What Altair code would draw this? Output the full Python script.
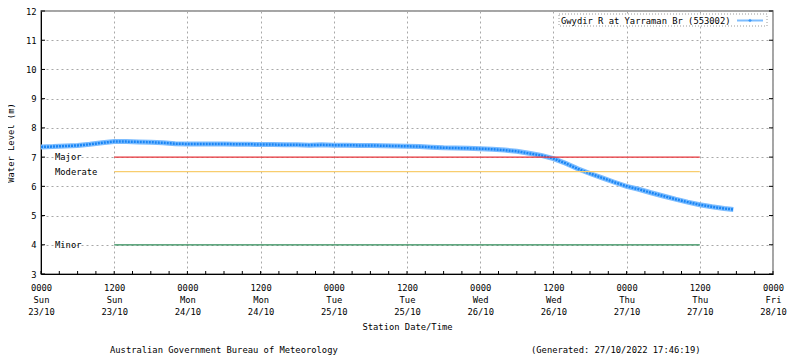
import altair as alt
import pandas as pd

# hours since 0000 Sun 23/10/2022 and water level (m)
hours = [0, 2, 4, 6, 8, 10, 12, 14, 16, 18, 20, 22, 24, 26, 28, 30, 32, 34, 36, 38,
         40, 42, 44, 46, 48, 50, 52, 54, 56, 58, 60, 62, 64, 66, 68, 70, 72, 74, 76, 78,
         80, 82, 84, 86, 88, 90, 92, 94, 96, 98, 100, 102, 104, 106, 108, 110, 112, 113.5]
levels = [7.35, 7.36, 7.38, 7.40, 7.44, 7.49, 7.53, 7.53, 7.52, 7.51, 7.49, 7.46, 7.45, 7.45,
          7.45, 7.45, 7.44, 7.44, 7.43, 7.43, 7.42, 7.42, 7.41, 7.42, 7.41, 7.41, 7.40, 7.40,
          7.39, 7.38, 7.37, 7.36, 7.34, 7.32, 7.31, 7.30, 7.29, 7.27, 7.24, 7.20, 7.13, 7.06,
          6.95, 6.79, 6.60, 6.44, 6.29, 6.14, 6.00, 5.90, 5.78, 5.67, 5.56, 5.46, 5.37, 5.30,
          5.24, 5.21]

flood_names = ["Major", "Moderate", "Minor"]
flood_levels = [7.0, 6.5, 4.0]
flood_colors = ["#e8343a", "#f8cd6e", "#2e8b57"]
flood_start = 12
flood_end = 108

x_tick_hours = [0, 12, 24, 36, 48, 60, 72, 84, 96, 108, 120]
x_tick_times = ["0000", "1200"] * 5 + ["0000"]
x_tick_days = ["Sun", "Sun", "Mon", "Mon", "Tue", "Tue", "Wed", "Wed", "Thu", "Thu", "Fri"]
x_tick_dates = ["23/10", "23/10", "24/10", "24/10", "25/10", "25/10", "26/10", "26/10",
                "27/10", "27/10", "28/10"]
minor_tick_hours = list(range(0, 121, 3))
y_ticks = [3, 4, 5, 6, 7, 8, 9, 10, 11, 12]

series_name = "Gwydir R at Yarraman Br (553002)"
footer_left = "Australian Government Bureau of Meteorology"
footer_right = "(Generated: 27/10/2022 17:46:19)"

FONT = "DejaVu Sans Mono"
FS = 8.8
W, H = 732, 263

df = pd.DataFrame({"hour": hours, "level": levels})
fl = pd.DataFrame({"name": flood_names, "level": flood_levels, "color": flood_colors,
                   "start": flood_start, "end": flood_end})
mt = pd.DataFrame({"hour": minor_tick_hours})
yt = pd.DataFrame({"level": y_ticks})

label_arr = "[" + ",".join(
    "['%s','%s','%s']" % (t, d, dt) for t, d, dt in zip(x_tick_times, x_tick_days, x_tick_dates)
) + "]"

xscale = alt.Scale(domain=[0, 120], nice=False, zero=False)
yscale = alt.Scale(domain=[3, 12], nice=False, zero=False)

xaxis = alt.Axis(values=x_tick_hours, labelExpr=label_arr + "[round(datum.value/12)]",
                 title="Station Date/Time", grid=True, gridDash=[2, 3], gridColor="#a8a8a8",
                 domainColor="#000000", tickSize=0, labelPadding=9, labelLineHeight=12,
                 titlePadding=7, labelFlush=False, labelOverlap=False)
yaxis = alt.Axis(values=y_ticks, title="Water Level (m)", grid=True, gridDash=[2, 3],
                 gridColor="#a8a8a8", domainColor="#000000", tickSize=0, labelPadding=5,
                 titlePadding=10, labelOverlap=False, labelFlush=False)


def X(field):
    return alt.X(field, scale=xscale, axis=xaxis, title="Station Date/Time")


def Y(field):
    return alt.Y(field, scale=yscale, axis=yaxis, title="Water Level (m)")


base = alt.Chart(df)

halo = base.mark_line(color="#7dbdff", strokeWidth=5).encode(
    x=X("hour:Q"), y=Y("level:Q"))
core = base.mark_line(color="#1a86f5", strokeWidth=2.5, strokeDash=[2, 1]).encode(
    x=X("hour:Q"), y=Y("level:Q"))

flood_lines = alt.Chart(fl).mark_rule(strokeWidth=1.2).encode(
    x=X("start:Q"), x2="end:Q",
    y=Y("level:Q"),
    color=alt.Color("color:N", scale=None),
)
flood_text = alt.Chart(fl).mark_text(align="left", baseline="middle", font=FONT,
                                     fontSize=FS, color="#000000").encode(
    x=alt.value(14), y=Y("level:Q"), text="name:N")

minor_ticks = alt.Chart(mt).mark_rule(color="#000000", strokeWidth=1).encode(
    x=X("hour:Q"), y=alt.value(H), y2=alt.value(H - 3))
left_ticks = alt.Chart(yt).mark_rule(color="#000000", strokeWidth=1).encode(
    y=Y("level:Q"), x=alt.value(0), x2=alt.value(4))
right_ticks = alt.Chart(yt).mark_rule(color="#000000", strokeWidth=1).encode(
    y=Y("level:Q"), x=alt.value(W - 4), x2=alt.value(W))

# legend
leg = pd.DataFrame({"name": [series_name]})
leg_box = alt.Chart(leg).mark_rect(fill="#ffffff", stroke="#9a9a9a", strokeDash=[1, 2],
                                   strokeWidth=1).encode(
    x=alt.value(518), x2=alt.value(726), y=alt.value(3), y2=alt.value(15))
leg_text = alt.Chart(leg).mark_text(align="left", baseline="middle", font=FONT,
                                    fontSize=FS, color="#000000").encode(
    x=alt.value(520), y=alt.value(9.5), text="name:N")
leg_line = alt.Chart(leg).mark_rule(color="#7dbdff", strokeWidth=2).encode(
    x=alt.value(696), x2=alt.value(722), y=alt.value(9.5))
leg_pt = alt.Chart(leg).mark_point(color="#1a86f5", filled=True, size=14, shape="diamond").encode(
    x=alt.value(709), y=alt.value(9.5))

foot_l = alt.Chart(leg).mark_text(align="left", baseline="middle", font=FONT, fontSize=FS,
                                  color="#000000", text=footer_left).encode(
    x=alt.value(69), y=alt.value(339))
foot_r = alt.Chart(leg).mark_text(align="left", baseline="middle", font=FONT, fontSize=FS,
                                  color="#000000", text=footer_right).encode(
    x=alt.value(490), y=alt.value(339))

chart = alt.layer(
    halo, core, flood_lines, flood_text, minor_ticks, left_ticks, right_ticks,
    leg_box, leg_text, leg_line, leg_pt, foot_l, foot_r
).properties(
    width=W, height=H,
    autosize=alt.AutoSizeParams(type="none"),
    padding={"left": 33, "top": 3, "right": 19, "bottom": 81},
).configure_view(stroke="#888888", strokeWidth=1.5).configure_axis(
    labelFont=FONT, titleFont=FONT, labelFontSize=FS, titleFontSize=FS,
    titleFontWeight="normal", labelColor="#000000", titleColor="#000000",
)

chart.save("out.html", embed_options={"renderer": "svg", "actions": False})
